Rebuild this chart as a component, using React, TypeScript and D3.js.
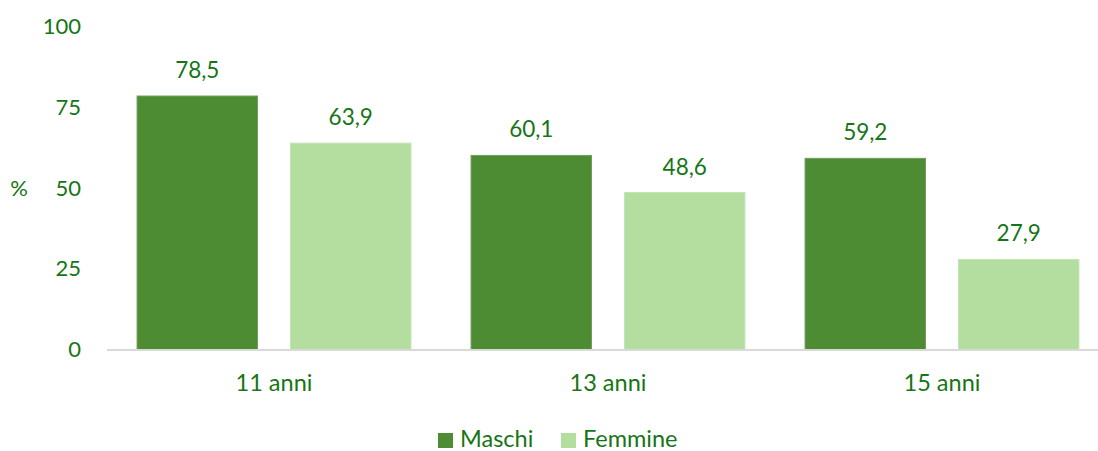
import * as d3 from 'd3';

const categories = ['11 anni', '13 anni', '15 anni'];
const seriesNames = ['Maschi', 'Femmine'];
const maschi = [78.5, 60.1, 59.2];
const femmine = [63.9, 48.6, 27.9];
const yTicks = [0, 25, 50, 75, 100];

const colors = ['#4e8c34', '#b3dea0'];
const strokes = ['#6f9f5b', '#c4e5b5'];
const textColor = '#167516';
const font = 'Lato, "Open Sans", sans-serif';

const W = 1098;
const H = 451;

export default function App() {
  const x0 = d3.scaleBand().domain(categories).range([107, 1109]).paddingInner(0.18).paddingOuter(0.09);
  const x1 = d3.scaleBand().domain(seriesNames).range([0, x0.bandwidth()]).paddingInner(0.215);
  const y = d3.scaleLinear().domain([0, 100]).range([349.5, 26.6]);
  const values = [maschi, femmine];
  const fmt = (v: number) => v.toFixed(1).replace('.', ',');

  return (
    <svg width={W} height={H} style={{ position: 'absolute', left: 0, top: 0, background: '#fff' }}>
      <g fontFamily={font} fill={textColor}>
        {yTicks.map(t => (
          <text key={t} x={81} y={y(t)} dy="0.35em" textAnchor="end" fontSize={22}>{t}</text>
        ))}
        <text x={19} y={y(50)} dy="0.35em" textAnchor="middle" fontSize={22}>%</text>
      </g>

      {categories.map((c, i) => (
        <g key={c} transform={`translate(${x0(c)},0)`}>
          {seriesNames.map((s, j) => {
            const v = values[j][i];
            const bx = x1(s)!;
            return (
              <g key={s}>
                <rect x={bx} y={y(v)} width={x1.bandwidth()} height={y(0) - y(v)} fill={colors[j]} stroke={strokes[j]} strokeWidth={1} />
                <text x={bx + x1.bandwidth() / 2} y={y(v) - 18} textAnchor="middle" fontSize={22.5} fontFamily={font} fill={textColor}>{fmt(v)}</text>
              </g>
            );
          })}
        </g>
      ))}

      <line x1={107} x2={1109} y1={y(0) + 0.5} y2={y(0) + 0.5} stroke="#d9d9d9" strokeWidth={2} />

      {categories.map(c => (
        <text key={c} x={x0(c)! + x0.bandwidth() / 2} y={391} textAnchor="middle" fontSize={23.5} fontFamily={font} fill={textColor}>{c}</text>
      ))}

      <g fontFamily={font} fontSize={23.5} fill={textColor}>
        <rect x={438} y={433} width={15} height={15} fill={colors[0]} />
        <text x={460} y={447}>{seriesNames[0]}</text>
        <rect x={561} y={433} width={15} height={15} fill={colors[1]} />
        <text x={583} y={447}>{seriesNames[1]}</text>
      </g>
    </svg>
  );
}
